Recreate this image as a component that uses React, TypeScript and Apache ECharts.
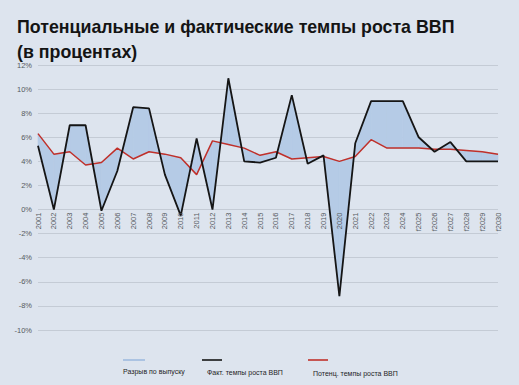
import React, { useEffect, useRef } from "react";
import * as echarts from "echarts";

const years = [
  "2001", "2002", "2003", "2004", "2005", "2006", "2007", "2008", "2009", "2010",
  "2011", "2012", "2013", "2014", "2015", "2016", "2017", "2018", "2019", "2020",
  "2021", "2022", "2023", "2024", "f2025", "f2026", "f2027", "f2028", "f2029", "f2030",
];
const actualGrowth = [
  5.3, 0, 7.0, 7.0, -0.1, 3.2, 8.5, 8.4, 2.9, -0.5,
  5.9, 0, 10.9, 4.0, 3.9, 4.3, 9.5, 3.8, 4.5, -7.2,
  5.5, 9.0, 9.0, 9.0, 6.0, 4.8, 5.6, 4.0, 4.0, 4.0,
];
const potentialGrowth = [
  6.3, 4.6, 4.8, 3.7, 3.9, 5.1, 4.2, 4.8, 4.6, 4.3,
  2.9, 5.7, 5.4, 5.1, 4.5, 4.8, 4.2, 4.3, 4.4, 4.0,
  4.4, 5.8, 5.1, 5.1, 5.1, 5.0, 5.0, 4.9, 4.8, 4.6,
];
const yMin = -10;
const yMax = 12;
const yStep = 2;
const titleLines = ["Потенциальные и фактические темпы роста ВВП", "(в процентах)"];
const legendNames = ["Разрыв по выпуску", "Факт. темпы роста ВВП", "Потенц. темпы роста ВВП"];

const FONT = "'Liberation Sans', Arial, sans-serif";
const GAP_COLOR = "#b5cbe6";
const ACT_COLOR = "#151515";
const POT_COLOR = "#c0302a";

const GRID_TOP = 65;
const GRID_BOTTOM = 55;
const CHART_H = 385;

export default function App() {
  const ref = useRef<HTMLDivElement>(null);
  useEffect(() => {
    if (!ref.current) return;
    const chart = echarts.init(ref.current, null, { renderer: "svg" });
    const segs = [] as number[][];
    for (let i = 0; i < years.length - 1; i++) {
      segs.push([i, actualGrowth[i], potentialGrowth[i], actualGrowth[i + 1], potentialGrowth[i + 1]]);
    }
    const gridH = CHART_H - GRID_TOP - GRID_BOTTOM;
    const zeroOffset = -(gridH * (0 - yMin)) / (yMax - yMin);
    chart.setOption({
      animation: false,
      backgroundColor: "#dde4ee",
      title: {
        text: titleLines.join("\n"),
        left: 17,
        top: 15,
        padding: 0,
        textStyle: {
          fontFamily: FONT,
          fontSize: 17.8,
          fontWeight: "bold",
          color: "#141414",
          lineHeight: 24.5,
        },
      },
      grid: { left: 38, right: 21, top: GRID_TOP, bottom: GRID_BOTTOM, containLabel: false },
      xAxis: {
        type: "category",
        data: years,
        boundaryGap: false,
        position: "bottom",
        offset: zeroOffset,
        z: 6,
        axisLine: { show: false, onZero: false },
        axisTick: { show: false },
        splitLine: { show: false },
        axisLabel: {
          rotate: 90,
          interval: 0,
          fontSize: 7.5,
          fontFamily: FONT,
          color: "#555a60",
          margin: 3,
        },
      },
      yAxis: {
        type: "value",
        min: yMin,
        max: yMax,
        interval: yStep,
        axisLine: { show: false },
        axisTick: { show: false },
        splitLine: { show: true, lineStyle: { color: "#c4cbd5", width: 1 } },
        axisLabel: {
          formatter: (v: number) => v + "%",
          fontSize: 7.5,
          fontFamily: FONT,
          color: "#555a60",
          margin: 6,
        },
      },
      series: [
        {
          type: "custom",
          name: legendNames[0],
          data: segs,
          encode: { x: 0, y: [1, 2, 3, 4] },
          silent: true,
          z: 1,
          renderItem: (params: any, api: any) => {
            const i = api.value(0);
            const pts = [
              api.coord([i, api.value(1)]),
              api.coord([i + 1, api.value(3)]),
              api.coord([i + 1, api.value(4)]),
              api.coord([i, api.value(2)]),
            ];
            return {
              type: "polygon",
              shape: { points: pts },
              style: { fill: GAP_COLOR, stroke: GAP_COLOR, lineWidth: 0.6 },
            };
          },
        },
        {
          type: "line",
          name: legendNames[2],
          data: potentialGrowth,
          symbol: "none",
          z: 3,
          lineStyle: { color: POT_COLOR, width: 1.5 },
        },
        {
          type: "line",
          name: legendNames[1],
          data: actualGrowth,
          symbol: "none",
          z: 4,
          lineStyle: { color: ACT_COLOR, width: 1.8 },
        },
      ],
      graphic: [
        { type: "line", shape: { x1: 123, y1: 360, x2: 145, y2: 360 }, style: { stroke: "#abc3e2", lineWidth: 2 } },
        { type: "text", x: 123, y: 371, style: { text: legendNames[0], font: "7px " + FONT, fill: "#1e1e1e", verticalAlign: "middle" } },
        { type: "line", shape: { x1: 202, y1: 360, x2: 222, y2: 360 }, style: { stroke: ACT_COLOR, lineWidth: 1.6 } },
        { type: "text", x: 207, y: 372, style: { text: legendNames[1], font: "7px " + FONT, fill: "#1e1e1e", verticalAlign: "middle" } },
        { type: "line", shape: { x1: 308, y1: 360, x2: 328, y2: 360 }, style: { stroke: POT_COLOR, lineWidth: 1.6 } },
        { type: "text", x: 313, y: 373, style: { text: legendNames[2], font: "7px " + FONT, fill: "#1e1e1e", verticalAlign: "middle" } },
      ],
    });
    return () => chart.dispose();
  }, []);
  return (
    <div
      ref={ref}
      style={{ position: "fixed", left: 0, top: 0, width: 519, height: 385, background: "#dde4ee" }}
    />
  );
}
